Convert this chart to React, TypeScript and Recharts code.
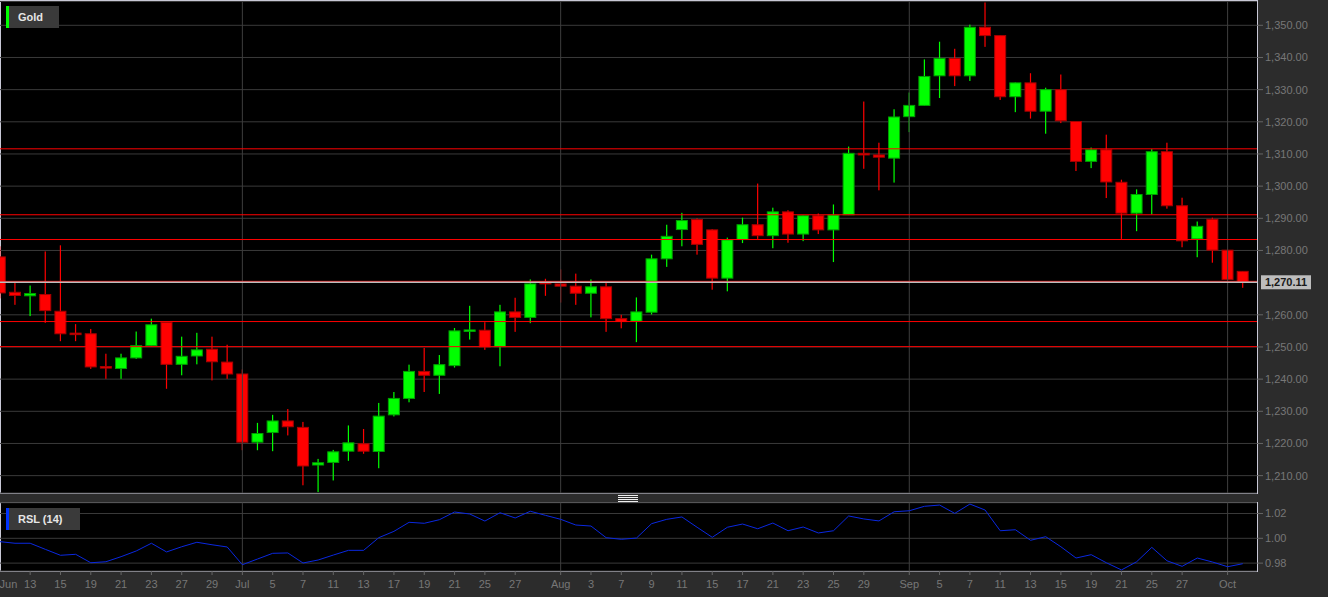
import React from 'react'
import {
  Bar,
  CartesianGrid,
  ComposedChart,
  Line,
  LineChart,
  ReferenceLine,
  XAxis,
  YAxis,
} from 'recharts'

// trading days, Jun 9 – Oct 3 2017
const dates = [
  'Jun 9', 'Jun 12', 'Jun 13', 'Jun 14', 'Jun 15', 'Jun 16', 'Jun 19', 'Jun 20', 'Jun 21', 'Jun 22',
  'Jun 23', 'Jun 26', 'Jun 27', 'Jun 28', 'Jun 29', 'Jun 30', 'Jul 3', 'Jul 4', 'Jul 5', 'Jul 6',
  'Jul 7', 'Jul 10', 'Jul 11', 'Jul 12', 'Jul 13', 'Jul 14', 'Jul 17', 'Jul 18', 'Jul 19', 'Jul 20',
  'Jul 21', 'Jul 24', 'Jul 25', 'Jul 26', 'Jul 27', 'Jul 28', 'Jul 31', 'Aug 1', 'Aug 2', 'Aug 3',
  'Aug 4', 'Aug 7', 'Aug 8', 'Aug 9', 'Aug 10', 'Aug 11', 'Aug 14', 'Aug 15', 'Aug 16', 'Aug 17',
  'Aug 18', 'Aug 21', 'Aug 22', 'Aug 23', 'Aug 24', 'Aug 25', 'Aug 28', 'Aug 29', 'Aug 30', 'Aug 31',
  'Sep 1', 'Sep 4', 'Sep 5', 'Sep 6', 'Sep 7', 'Sep 8', 'Sep 11', 'Sep 12', 'Sep 13', 'Sep 14',
  'Sep 15', 'Sep 18', 'Sep 19', 'Sep 20', 'Sep 21', 'Sep 22', 'Sep 25', 'Sep 26', 'Sep 27', 'Sep 28',
  'Sep 29', 'Oct 2', 'Oct 3',
]

const opens = [
  1278.0, 1267.0, 1265.9, 1266.3, 1261.1, 1254.3, 1254.1, 1243.9, 1243.3, 1246.6,
  1250.4, 1257.6, 1244.6, 1247.2, 1249.3, 1245.3, 1241.6, 1220.4, 1223.4, 1227.0,
  1225.0, 1213.3, 1214.1, 1217.6, 1219.9, 1217.5, 1228.9, 1234.0, 1242.4, 1241.2,
  1244.2, 1255.0, 1255.2, 1250.1, 1260.9, 1259.2, 1270.3, 1269.6, 1268.9, 1266.7,
  1268.7, 1258.8, 1258.0, 1260.8, 1277.4, 1286.5, 1289.6, 1286.4, 1271.4, 1283.4,
  1288.0, 1284.6, 1292.0, 1285.1, 1290.8, 1286.4, 1291.1, 1310.2, 1309.7, 1308.7,
  1321.6, 1325.1, 1334.3, 1339.7, 1334.3, 1349.4, 1346.8, 1327.8, 1332.1, 1323.3,
  1330.0, 1320.1, 1307.7, 1311.3, 1301.2, 1291.6, 1297.4, 1310.7, 1293.9, 1283.6,
  1289.7, 1280.1, 1273.5,
]

const highs = [
  1281.3, 1270.0, 1269.1, 1279.7, 1281.6, 1257.1, 1255.6, 1247.9, 1247.9, 1254.8,
  1258.8, 1257.8, 1253.2, 1254.4, 1253.2, 1250.7, 1243.0, 1226.4, 1228.9, 1230.7,
  1226.7, 1215.2, 1218.0, 1225.6, 1224.5, 1232.6, 1236.0, 1244.5, 1249.7, 1247.5,
  1255.9, 1262.8, 1257.7, 1263.1, 1265.3, 1271.0, 1271.2, 1274.1, 1272.8, 1271.0,
  1270.0, 1260.0, 1265.4, 1278.7, 1288.0, 1291.7, 1290.0, 1286.6, 1284.0, 1290.2,
  1300.8, 1293.3, 1292.5, 1290.9, 1291.5, 1294.3, 1312.3, 1326.3, 1313.5, 1323.9,
  1329.1, 1339.4, 1344.9, 1342.7, 1350.2, 1357.1, 1346.9, 1332.2, 1335.1, 1330.6,
  1334.7, 1320.2, 1312.0, 1316.0, 1302.0, 1299.0, 1311.5, 1313.5, 1296.4, 1289.0,
  1290.2, 1280.2, 1273.6,
]

const lows = [
  1265.1, 1263.1, 1259.6, 1257.5, 1251.8, 1251.8, 1243.2, 1240.1, 1240.1, 1246.3,
  1250.2, 1237.0, 1241.2, 1244.6, 1239.6, 1240.1, 1217.9, 1217.9, 1217.6, 1222.5,
  1207.0, 1204.9, 1208.5, 1214.6, 1216.8, 1212.3, 1228.4, 1232.8, 1236.0, 1235.4,
  1243.6, 1252.3, 1249.1, 1244.0, 1254.7, 1257.4, 1265.9, 1263.8, 1263.1, 1259.2,
  1254.7, 1255.8, 1251.5, 1260.1, 1274.9, 1281.3, 1278.7, 1267.8, 1267.3, 1282.3,
  1283.6, 1280.7, 1282.4, 1282.9, 1285.1, 1276.4, 1291.0, 1305.4, 1298.7, 1301.1,
  1316.8, 1325.0, 1327.4, 1331.1, 1332.7, 1343.3, 1326.8, 1323.0, 1321.0, 1316.3,
  1319.6, 1304.7, 1305.6, 1296.3, 1283.6, 1286.0, 1291.2, 1293.0, 1281.0, 1277.9,
  1276.2, 1270.9, 1268.4,
]

const closes = [
  1266.8, 1266.0, 1266.6, 1261.3, 1254.1, 1254.0, 1243.8, 1243.6, 1246.6, 1250.4,
  1256.9, 1244.6, 1247.1, 1249.1, 1245.4, 1241.6, 1220.4, 1223.1, 1227.0, 1225.2,
  1213.0, 1214.0, 1217.4, 1220.2, 1217.6, 1228.5, 1234.0, 1242.4, 1241.2, 1244.5,
  1255.0, 1255.3, 1250.0, 1260.9, 1259.2, 1269.6, 1269.6, 1268.9, 1266.7, 1268.7,
  1258.8, 1257.9, 1260.9, 1277.4, 1284.4, 1289.3, 1281.9, 1271.4, 1283.3, 1288.0,
  1284.6, 1292.0, 1285.1, 1290.8, 1286.4, 1291.0, 1310.2, 1309.7, 1309.0, 1321.5,
  1325.1, 1334.1, 1339.7, 1334.3, 1349.4, 1346.8, 1327.8, 1332.1, 1323.3, 1330.0,
  1320.3, 1307.7, 1311.3, 1301.3, 1291.6, 1297.4, 1310.7, 1293.9, 1283.0, 1287.5,
  1280.1, 1271.0, 1270.11,
]

const rslValues = [
  0.9973, 0.996, 0.996, 0.9911, 0.9863, 0.9871, 0.9803, 0.9811, 0.9852, 0.9898,
  0.996, 0.989, 0.9932, 0.9968, 0.9948, 0.993, 0.9787, 0.9833, 0.9879, 0.9882,
  0.9801, 0.9825, 0.9865, 0.9903, 0.9903, 1.0005, 1.0056, 1.0129, 1.0121, 1.015,
  1.0212, 1.0196, 1.0139, 1.0206, 1.0164, 1.0218, 1.0185, 1.0153, 1.0107, 1.0099,
  1.0005, 0.9992, 1.0002, 1.0118, 1.0153, 1.0172, 1.0089, 1.0008, 1.0089, 1.0115,
  1.0077, 1.0123, 1.0061, 1.0091, 1.0043, 1.0061, 1.018, 1.0156, 1.014, 1.0214,
  1.0222, 1.0258, 1.0268, 1.0201, 1.0276, 1.0228, 1.0061, 1.0069, 0.9984, 1.0013,
  0.9932, 0.9841, 0.9868, 0.9803, 0.9745, 0.9811, 0.9927, 0.9819, 0.9774, 0.9841,
  0.9809, 0.9771, 0.9795,
]

const tickIdx = [
  0.57, 2, 4, 6, 8, 10, 12, 14, 16, 18, 20, 22, 24, 26, 28, 30, 32, 34,
  37, 39, 41, 43, 45, 47, 49, 51, 53, 55, 57,
  60, 62, 64, 66, 68, 70, 72, 74, 76, 78, 81,
]
const tickLabels = [
  'Jun', '13', '15', '19', '21', '23', '27', '29', 'Jul', '5', '7', '11', '13', '17', '19', '21', '25', '27',
  'Aug', '3', '7', '9', '11', '15', '17', '21', '23', '25', '29',
  'Sep', '5', '7', '11', '13', '15', '19', '21', '25', '27', 'Oct',
]

const priceTicks = [1210, 1220, 1230, 1240, 1250, 1260, 1280, 1290, 1300, 1310, 1320, 1330, 1340, 1350]
const rslTicks = [0.98, 1.0, 1.02]
const monthStarts = [16, 37, 60, 81]
const levels = [1311.6, 1291.1, 1283.4, 1270.4, 1257.9, 1250.1]
const lastPrice = 1270.11

const X_DOMAIN: [number, number] = [0.0104, 82.94]

const candles = dates.map((d, i) => ({
  i,
  date: d,
  open: opens[i],
  high: highs[i],
  low: lows[i],
  close: closes[i],
  range: [lows[i], highs[i]],
}))

const rslData = dates.map((d, i) => ({ i, date: d, rsl: rslValues[i] }))

const fmtPrice = (v: number) =>
  v.toLocaleString('en-US', { minimumFractionDigits: 2, maximumFractionDigits: 2 })

const axisTick = { fill: '#777', fontSize: 11 }

const Candle = (props: any) => {
  const { x, y, width, height, payload } = props
  if (x == null || !payload || Number.isNaN(x)) return null
  const cx = x + width / 2
  const top = Math.min(y, y + height)
  const bot = Math.max(y, y + height)
  const { open, high, low, close } = payload
  const py = (v: number) => (high === low ? top : top + ((high - v) / (high - low)) * (bot - top))
  const up = close >= open
  const fill = up ? '#00ff00' : '#ff0000'
  const edge = up ? '#00a000' : '#a80000'
  const bTop = py(Math.max(open, close))
  const bBot = py(Math.min(open, close))
  const h = Math.max(bBot - bTop, 1.5)
  return (
    <g>
      <rect x={cx - 0.6} y={top} width={1.2} height={bot - top} fill={fill} />
      <rect x={cx - 5.5} y={bTop} width={11} height={h} fill={fill} stroke={edge} strokeWidth={1} />
    </g>
  )
}

const PriceTag = (props: any) => {
  const vb = props.viewBox
  if (!vb) return null
  const x = vb.x + vb.width + 4
  return (
    <g>
      <rect x={x} y={vb.y - 7} width={50} height={14} fill="#bdbdbd" />
      <text x={x + 25} y={vb.y} dy="0.36em" textAnchor="middle" fontSize={11} fontWeight="bold" fill="#1a1a1a">
        {props.text}
      </text>
    </g>
  )
}

const DayTick = (props: any) => {
  const { x, y, payload } = props
  const k = tickIdx.indexOf(payload.value)
  const label = k >= 0 ? tickLabels[k] : ''
  const isFirst = k === 0
  return (
    <g>
      {!isFirst && <line x1={x} x2={x} y1={y - 9} y2={y - 5} stroke="#666" />}
      <text x={x} y={y} dy="0.71em" textAnchor="middle" fontSize={11} fill="#777">
        {label}
      </text>
    </g>
  )
}

const Swatch = ({ color, label, top, width }: { color: string; label: string; top: number; width: number }) => (
  <div
    style={{
      position: 'absolute',
      left: 6,
      top,
      width,
      height: 22,
      background: '#3a3a3a',
      display: 'flex',
      alignItems: 'center',
    }}
  >
    <div style={{ width: 3, height: 22, background: color }} />
    <span style={{ marginLeft: 9, color: '#e6e6e6', fontSize: 11, fontWeight: 'bold' }}>{label}</span>
  </div>
)

export default function App() {
  return (
    <div
      style={{
        position: 'absolute',
        left: 0,
        top: 0,
        width: 1328,
        height: 597,
        background: '#2c2c2c',
        overflow: 'hidden',
        fontFamily: '"Liberation Sans", Arial, sans-serif',
      }}
    >
      {/* panel backgrounds */}
      <div
        style={{
          position: 'absolute',
          left: 0,
          top: 0,
          width: 1258,
          height: 494,
          boxSizing: 'border-box',
          background: '#000',
          border: '1px solid #c8c8d6',
        }}
      />
      <div
        style={{
          position: 'absolute',
          left: 0,
          top: 502,
          width: 1258,
          height: 70,
          boxSizing: 'border-box',
          background: '#000',
          border: '1px solid #c8c8d6',
        }}
      />

      <div style={{ position: 'absolute', left: 0, top: 0 }}>
        <ComposedChart width={1328} height={494} data={candles} margin={{ top: 1.5, right: 0, bottom: 1, left: 0 }}>
          <CartesianGrid stroke="#3a3a3a" vertical={false} />
          <XAxis type="number" dataKey="i" domain={X_DOMAIN} allowDataOverflow hide />
          <YAxis
            orientation="right"
            width={71}
            domain={[1204.6, 1357.4]}
            allowDataOverflow
            ticks={priceTicks}
            interval={0}
            axisLine={false}
            tickLine={{ stroke: '#666' }}
            tick={axisTick}
            tickFormatter={fmtPrice}
          />
          {monthStarts.map((m) => (
            <ReferenceLine key={`m${m}`} x={m} stroke="#3e3e3e" />
          ))}
          {levels.map((lv) => (
            <ReferenceLine key={`l${lv}`} y={lv} stroke="#ff0000" strokeWidth={1} />
          ))}
          <ReferenceLine y={lastPrice} stroke="#bdbdbd" strokeWidth={1.5} label={<PriceTag text={fmtPrice(lastPrice)} />} />
          <Bar dataKey="range" shape={<Candle />} isAnimationActive={false} />
        </ComposedChart>
      </div>

      <div style={{ position: 'absolute', left: 0, top: 494 }}>
        <LineChart width={1328} height={103} data={rslData} margin={{ top: 8.7, right: 0, bottom: 0, left: 0 }}>
          <CartesianGrid stroke="#3a3a3a" vertical={false} />
          <XAxis
            type="number"
            dataKey="i"
            domain={X_DOMAIN}
            allowDataOverflow
            ticks={tickIdx}
            interval={0}
            height={26}
            tickSize={5}
            tickMargin={4}
            axisLine={false}
            tickLine={false}
            tick={<DayTick />}
          />
          <YAxis
            orientation="right"
            width={71}
            domain={[0.97364, 1.0287]}
            allowDataOverflow
            ticks={rslTicks}
            interval={0}
            axisLine={false}
            tickLine={{ stroke: '#666' }}
            tick={axisTick}
            tickFormatter={(v: number) => v.toFixed(2)}
          />
          {monthStarts.map((m) => (
            <ReferenceLine key={`r${m}`} x={m} stroke="#3e3e3e" />
          ))}
          <Line dataKey="rsl" stroke="#0a28e0" strokeWidth={1} dot={false} isAnimationActive={false} />
        </LineChart>
      </div>

      {/* panel splitter handle */}
      <svg style={{ position: 'absolute', left: 617, top: 494 }} width={22} height={9}>
        {[1, 3, 5, 7].map((yy) => (
          <line key={yy} x1={1} x2={21} y1={yy + 0.5} y2={yy + 0.5} stroke="#eeeeee" />
        ))}
      </svg>

      <Swatch color="#00ff00" label="Gold" top={6} width={53} />
      <Swatch color="#0033ff" label="RSL (14)" top={508} width={74} />
    </div>
  )
}
